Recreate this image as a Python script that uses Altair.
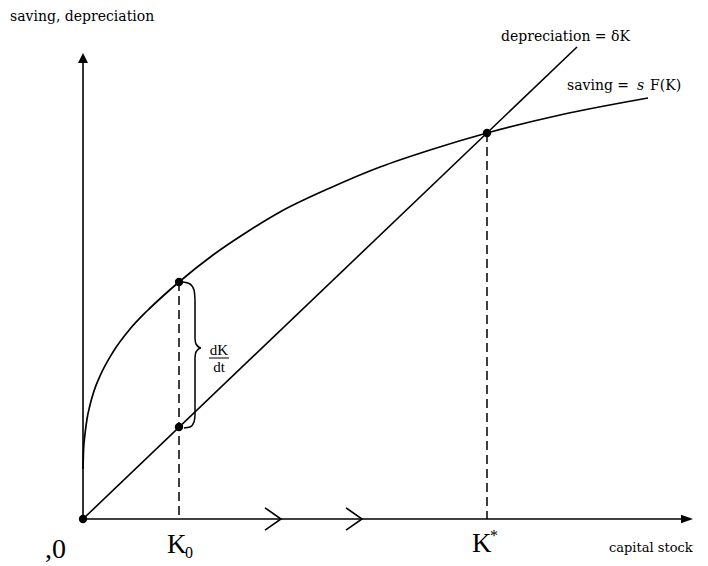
import altair as alt
import pandas as pd

# ---------------- data (model units) ----------------
# saving curve  s F(K)
K_save = [0, 0.5, 2, 4, 7, 11, 17, 30, 47, 64, 80, 96, 130, 164, 197, 247, 297, 347, 404, 477, 565]
S_save = [50, 68, 85, 100, 114, 128, 143, 167, 190, 208, 223, 237, 264, 287, 307, 331, 352, 369, 386, 404, 421]
# depreciation line  delta K
K_dep = [0, 494]
D_dep = [0, 472]
# marked points
K_pts = [0, 96, 96, 404]
Y_pts = [0, 237, 92, 386]
# dashed drop lines
K_drop = [96, 404]
Y_drop = [237, 386]
# axes extents
X_MAX = 610
Y_MAX = 466
# motion arrows on the K axis
K_arrows = [198, 279]
# brace showing dK/dt
K_brace = [100, 107, 111, 112, 112, 113, 118, 113, 112, 112, 111, 107, 101]
Y_brace = [237, 235, 229, 219, 181, 175, 171, 167, 161, 104, 97, 92, 91]

XS = alt.Scale(domain=[-75, 617], nice=False, zero=False)
YS = alt.Scale(domain=[-47, 511], nice=False, zero=False)


def xe(f="x"):
    return alt.X(f"{f}:Q", scale=XS, axis=None)


def ye(f="y"):
    return alt.Y(f"{f}:Q", scale=YS, axis=None)


saving = alt.Chart(pd.DataFrame({"x": K_save, "y": S_save})).mark_line(
    color="black", strokeWidth=1.7, interpolate="monotone"
).encode(x=xe(), y=ye())

dep = alt.Chart(pd.DataFrame({"x": K_dep, "y": D_dep})).mark_line(
    color="black", strokeWidth=1.6
).encode(x=xe(), y=ye())

drops = alt.Chart(pd.DataFrame({"x": K_drop, "y": Y_drop, "y0": [0, 0]})).mark_rule(
    color="black", strokeWidth=1.5, strokeDash=[9, 5]
).encode(x=xe(), y=ye(), y2="y0:Q")

xaxis = alt.Chart(pd.DataFrame({"x": [0], "x2": [X_MAX - 4], "y": [0]})).mark_rule(
    color="black", strokeWidth=1.6
).encode(x=xe(), x2="x2:Q", y=ye())

yaxis = alt.Chart(pd.DataFrame({"x": [0], "y": [0], "y2": [Y_MAX - 4]})).mark_rule(
    color="black", strokeWidth=1.6
).encode(x=xe(), y=ye(), y2="y2:Q")

arrow_up = alt.Chart(pd.DataFrame({"x": [0], "y": [Y_MAX]})).mark_point(
    shape="M0,0L-0.5,1L0.5,1Z", filled=True, color="black", opacity=1, size=400
).encode(x=xe(), y=ye())

arrow_right = alt.Chart(pd.DataFrame({"x": [X_MAX], "y": [0]})).mark_point(
    shape="M0,0L-1,-0.35L-1,0.35Z", filled=True, color="black", opacity=1, size=576
).encode(x=xe(), y=ye())

chevrons = alt.Chart(pd.DataFrame({"x": K_arrows, "y": [0, 0]})).mark_point(
    shape="M-1,-0.7L0,0L-1,0.7", filled=False, color="black", opacity=1,
    size=1024, strokeWidth=1.6
).encode(x=xe(), y=ye())

brace = alt.Chart(pd.DataFrame({"x": K_brace, "y": Y_brace, "o": list(range(len(K_brace)))})).mark_line(
    color="black", strokeWidth=1.5, interpolate="monotone"
).encode(x=xe(), y=ye(), order="o:O")

dots = alt.Chart(pd.DataFrame({"x": K_pts, "y": Y_pts})).mark_circle(
    color="black", opacity=1, size=70
).encode(x=xe(), y=ye())

# ---------------- labels ----------------
small_lab = pd.DataFrame({
    "x": [-73, 418, 484],
    "y": [498, 478, 429],
    "t": ["saving, depreciation", "depreciation = \u03b4K", "saving ="],
})
small = alt.Chart(small_lab).mark_text(
    font="DejaVu Serif", fontSize=14, align="left", baseline="alphabetic", color="black"
).encode(x=xe(), y=ye(), text="t:N")

cap = alt.Chart(pd.DataFrame({"x": [526], "y": [-33], "t": ["capital stock"]})).mark_text(
    font="DejaVu Serif", fontSize=13, align="left", baseline="alphabetic", color="black"
).encode(x=xe(), y=ye(), text="t:N")

s_ital = alt.Chart(pd.DataFrame({"x": [554], "y": [429], "t": ["s"]})).mark_text(
    font="DejaVu Serif", fontSize=14, fontStyle="italic", align="left",
    baseline="alphabetic", color="black"
).encode(x=xe(), y=ye(), text="t:N")

fk = alt.Chart(pd.DataFrame({"x": [567], "y": [429], "t": ["F(K)"]})).mark_text(
    font="DejaVu Serif", fontSize=14, align="left", baseline="alphabetic", color="black"
).encode(x=xe(), y=ye(), text="t:N")

big_lab = pd.DataFrame({"x": [84, 389], "y": [-34, -33], "t": ["K", "K"]})
big = alt.Chart(big_lab).mark_text(
    font="Liberation Serif", fontSize=27, align="left", baseline="alphabetic", color="black"
).encode(x=xe(), y=ye(), text="t:N")

zero = alt.Chart(pd.DataFrame({"x": [-17], "y": [-39], "t": [",0"]})).mark_text(
    font="Liberation Serif", fontSize=28, align="right", baseline="alphabetic", color="black"
).encode(x=xe(), y=ye(), text="t:N")

subs = alt.Chart(pd.DataFrame({"x": [102, 407], "y": [-39, -22], "t": ["0", "*"]})).mark_text(
    font="Liberation Serif", fontSize=16, align="left", baseline="alphabetic", color="black"
).encode(x=xe(), y=ye(), text="t:N")

frac_txt = alt.Chart(pd.DataFrame({"x": [136, 136], "y": [164, 147], "t": ["dK", "dt"]})).mark_text(
    font="Liberation Serif", fontSize=15, align="center", baseline="alphabetic", color="black"
).encode(x=xe(), y=ye(), text="t:N")

frac_bar = alt.Chart(pd.DataFrame({"x": [126], "x2": [146], "y": [161]})).mark_rule(
    color="black", strokeWidth=1
).encode(x=xe(), x2="x2:Q", y=ye())

chart = alt.layer(
    drops, xaxis, yaxis, arrow_up, arrow_right, chevrons,
    dep, saving, brace, dots,
    small, cap, s_ital, fk, big, zero, subs, frac_txt, frac_bar,
).properties(
    width=692, height=558, padding=0,
    autosize=alt.AutoSizeParams(type="none"),
    background="white",
).configure_view(stroke=None)

chart.save("out.html", embed_options={"renderer": "svg", "actions": False})
